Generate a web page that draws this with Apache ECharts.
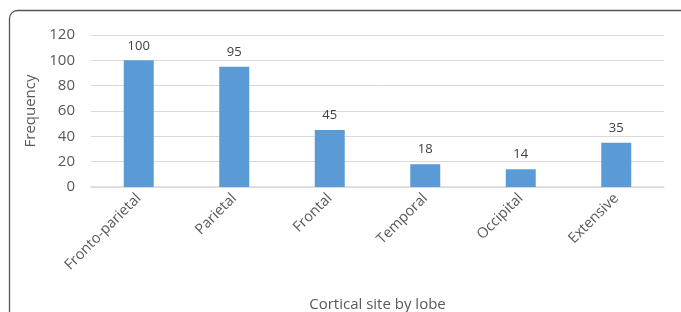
<!DOCTYPE html>
<html>
<head>
<meta charset="UTF-8">
<title>Cortical site by lobe</title>
<style>
  html, body { margin: 0; padding: 0; background: #fff; }
  #chart { width: 681px; height: 312px; }
</style>
<script src="https://cdn.jsdelivr.net/npm/echarts@6/dist/echarts.min.js"></script>
</head>
<body>
<div id="chart"></div>
<script>
var categories = ['Fronto-parietal', 'Parietal', 'Frontal', 'Temporal', 'Occipital', 'Extensive'];
var frequency = [100, 95, 45, 18, 14, 35];

var chart = echarts.init(document.getElementById('chart'));
var font = 'Open Sans';

var option = {
  animation: false,
  textStyle: { fontFamily: font },
  // chart frame (right and bottom edges fall outside the picture)
  graphic: [{
    type: 'rect',
    shape: { x: 9.5, y: 10.5, width: 720, height: 400, r: 8 },
    style: { fill: 'none', stroke: '#555', lineWidth: 1.3 },
    silent: true
  }],
  grid: { left: 91, right: 17, top: 35, bottom: 125, outerBoundsMode: 'none', containLabel: false },
  xAxis: {
    type: 'category',
    data: categories,
    name: 'Cortical site by lobe',
    nameLocation: 'middle',
    nameGap: 110,
    nameTextStyle: { fontSize: 15, color: '#595959', fontFamily: font },
    axisLine: { lineStyle: { color: '#d9d9d9', width: 1.5 } },
    axisTick: { show: false },
    axisLabel: {
      rotate: 45,
      interval: 0,
      margin: 9,
      fontSize: 14.5,
      color: '#595959',
      fontFamily: font
    }
  },
  yAxis: {
    type: 'value',
    min: 0,
    max: 120,
    interval: 20,
    name: 'Frequency',
    nameLocation: 'middle',
    nameGap: 45,
    nameTextStyle: { fontSize: 15, color: '#595959', fontFamily: font },
    axisLine: { show: false },
    axisTick: { show: false },
    axisLabel: { fontSize: 15, color: '#595959', margin: 16, fontFamily: font },
    splitLine: { lineStyle: { color: '#d9d9d9', width: 1 } }
  },
  series: [{
    type: 'bar',
    data: frequency,
    barWidth: 30,
    itemStyle: { color: '#5b9bd5' },
    label: {
      show: true,
      position: 'top',
      distance: 8,
      fontSize: 13,
      color: '#404040',
      fontFamily: font
    }
  }]
};

chart.setOption(option);
</script>
</body>
</html>
